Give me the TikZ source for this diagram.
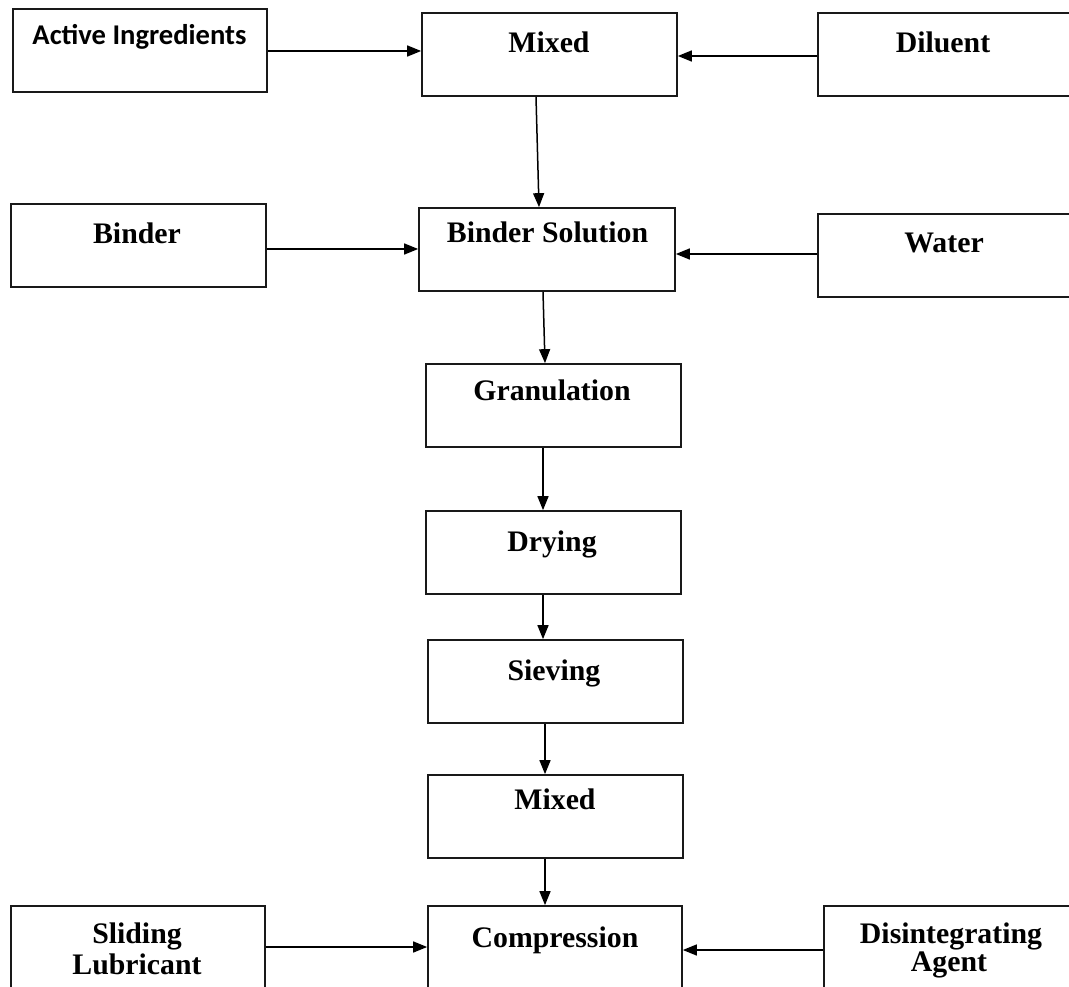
\documentclass[tikz,border=0pt]{standalone}
\usepackage{fontspec}
\setmainfont{Liberation Serif}
\newfontfamily\calib{Carlito}
\usetikzlibrary{arrows.meta}
\begin{document}
\begin{tikzpicture}[x=1pt,y=-1pt,
  box/.style={draw=black!90, line width=1.7pt, inner sep=0pt, fill=none},
  lbl/.style={anchor=base, inner sep=0pt, font=\bfseries\fontsize{29.8}{34}\selectfont},
  slbl/.style={anchor=base, inner sep=0pt, font=\calib\bfseries\fontsize{28.6}{34}\selectfont},
  arr/.style={line width=1.5pt, -{Triangle[length=14pt,width=11pt]}}]
\useasboundingbox (0,0) rectangle (1069,987);
\clip (0,0) rectangle (1069,987);
\fill[white] (0,0) rectangle (1069,987);
% boxes
\node[box, minimum width=254pt, minimum height=83pt] (ai)   at (140,50.5) {};
\node[box, minimum width=255pt, minimum height=83pt] (mix1) at (549.5,54.5) {};
\node[box, minimum width=256pt, minimum height=83pt] (dil)  at (946,54.5) {};
\node[box, minimum width=255pt, minimum height=83pt] (bnd)  at (138.5,245.5) {};
\node[box, minimum width=256pt, minimum height=83pt] (bs)   at (547,249.5) {};
\node[box, minimum width=256pt, minimum height=83pt] (wat)  at (946,255.5) {};
\node[box, minimum width=255pt, minimum height=83pt] (gran) at (553.5,405.5) {};
\node[box, minimum width=255pt, minimum height=83pt] (dry)  at (553.5,552.5) {};
\node[box, minimum width=255pt, minimum height=83pt] (siev) at (555.5,681.5) {};
\node[box, minimum width=255pt, minimum height=83pt] (mix2) at (555.5,816.5) {};
\node[box, minimum width=254pt, minimum height=120pt] (comp) at (555,966) {};
\node[box, minimum width=254pt, minimum height=120pt] (slid) at (138,966) {};
\node[box, minimum width=256pt, minimum height=120pt] (dis)  at (952,966) {};
% labels
\node[slbl] (tai)   at (139.5,45) {Active Ingredients};
\node[lbl]  (tmix1) at (549,53) {Mixed};
\node[lbl]  (tdil)  at (943,53) {Diluent};
\node[lbl]  (tbnd)  at (137,244) {Binder};
\node[lbl]  (tbs)   at (547.5,243) {Binder Solution};
\node[lbl]  (twat)  at (944,253) {Water};
\node[lbl]  (tgran) at (552,400) {Granulation};
\node[lbl]  (tdry)  at (552,551) {Drying};
\node[lbl]  (tsiev) at (554,680) {Sieving};
\node[lbl]  (tmix2) at (555,809) {Mixed};
\node[lbl]  (tcomp) at (555,947) {Compression};
\node[lbl]  (tsl1)  at (137,943) {Sliding};
\node[lbl]  (tsl2)  at (137,974) {Lubricant};
\node[lbl]  (tdi1)  at (951,943) {Disintegrating};
\node[lbl]  (tdi2)  at (949,971) {Agent};
% horizontal arrows
\draw[arr] (ai.east |- 0,51) -- (mix1.west |- 0,51);
\draw[arr] (dil.west |- 0,56) -- (mix1.east |- 0,56);
\draw[arr] (bnd.east |- 0,249) -- (bs.west |- 0,249);
\draw[arr] (wat.west |- 0,254) -- (bs.east |- 0,254);
\draw[arr] (slid.east |- 0,947) -- (comp.west |- 0,947);
\draw[arr] (dis.west |- 0,950) -- (comp.east |- 0,950);
% vertical arrows
\draw[arr] (mix1.south -| 536,0) -- (bs.north -| 539,0);
\draw[arr] (bs.south -| 543,0) -- (gran.north -| 545,0);
\draw[arr] (gran.south -| 543,0) -- (dry.north -| 543,0);
\draw[arr] (dry.south -| 543,0) -- (siev.north -| 543,0);
\draw[arr] (siev.south -| 545,0) -- (mix2.north -| 545,0);
\draw[arr] (mix2.south -| 545,0) -- (comp.north -| 545,0);
\end{tikzpicture}
\end{document}
